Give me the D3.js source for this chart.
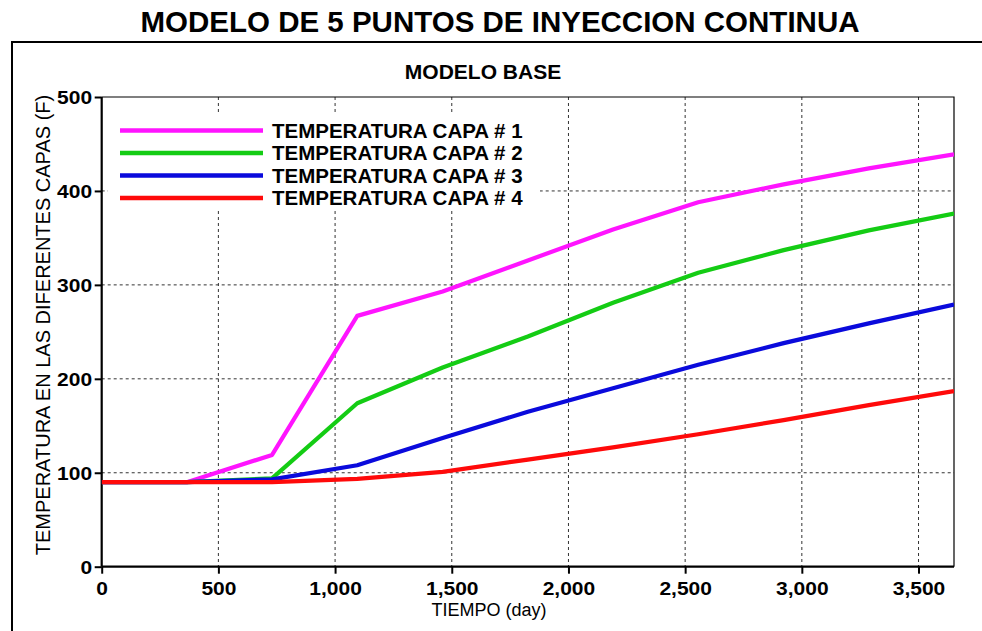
<!DOCTYPE html>
<html><head><meta charset="utf-8">
<script src="https://cdn.jsdelivr.net/npm/d3@7"></script>
<style>body{margin:0;background:#fff;}svg{display:block;}</style>
</head><body>
<svg id="chart" width="982" height="631"></svg>
<script>
const days = [0, 365, 730, 1095, 1461, 1826, 2191, 2556, 2922, 3287, 3652];
const capa1 = [90, 90, 119, 267, 293, 326, 359, 388, 407, 424, 439];
const capa2 = [90, 90, 94, 174, 212, 245, 281, 313, 337, 358, 376];
const capa3 = [90, 90, 93, 108, 137, 165, 190, 215, 238, 259, 279];
const capa4 = [90, 90, 90, 93.5, 101, 114, 127, 141, 156, 172, 187];
const seriesNames = ["TEMPERATURA CAPA # 1", "TEMPERATURA CAPA # 2", "TEMPERATURA CAPA # 3", "TEMPERATURA CAPA # 4"];
const seriesColors = ["#ff14ff", "#14cc14", "#0a0adc", "#ff0a0a"];
const xTicks = [0, 500, 1000, 1500, 2000, 2500, 3000, 3500];
const yTicks = [0, 100, 200, 300, 400, 500];
const title = "MODELO DE 5 PUNTOS DE INYECCION CONTINUA";
const subtitle = "MODELO BASE";
const xLabel = "TIEMPO (day)";
const yLabel = "TEMPERATURA EN LAS DIFERENTES CAPAS (F)";

const svg = d3.select("#chart");
const L = 101.7, R = 954, T = 97, B = 566.7;
const x = d3.scaleLinear().domain([0, 3652]).range([L, R]);
const y = d3.scaleLinear().domain([0, 500]).range([B, T]);
const font = "'Liberation Sans', Arial, sans-serif";

// outer frame
svg.append("path").attr("d", "M12,640 L12,42 L990,42").attr("fill", "none")
  .attr("stroke", "#000").attr("stroke-width", 2);

svg.append("text").attr("x", 500).attr("y", 32).attr("text-anchor", "middle")
  .attr("font-family", font).attr("font-weight", "bold").attr("font-size", 29.5).text(title);
svg.append("text").attr("x", 483).attr("y", 79).attr("text-anchor", "middle")
  .attr("font-family", font).attr("font-weight", "bold").attr("font-size", 21).text(subtitle);

// grid
const grid = svg.append("g").attr("stroke", "#333").attr("stroke-width", 1).attr("stroke-dasharray", "3,3");
grid.selectAll("line.v").data(xTicks.filter(d => d > 0)).join("line")
  .attr("x1", d => x(d)).attr("x2", d => x(d)).attr("y1", T).attr("y2", B);
grid.selectAll("line.h").data(yTicks.filter(d => d > 0 && d < 500)).join("line")
  .attr("x1", L).attr("x2", R).attr("y1", d => y(d)).attr("y2", d => y(d));

// plot border (top/right)
svg.append("path").attr("d", `M${L},${T} L${R},${T} L${R},${B}`).attr("fill", "none")
  .attr("stroke", "#000").attr("stroke-width", 1.2);

// legend background
svg.append("rect").attr("x", 108).attr("y", 115).attr("width", 432).attr("height", 96).attr("fill", "#fff");

// axes
const xAxis = svg.append("g").attr("transform", `translate(0,${B})`)
  .call(d3.axisBottom(x).tickValues(xTicks).tickSize(7).tickPadding(9).tickFormat(d3.format(",")));
const yAxis = svg.append("g").attr("transform", `translate(${L},0)`)
  .call(d3.axisLeft(y).tickValues(yTicks).tickSize(7).tickPadding(9).tickFormat(d3.format(",")));
[xAxis, yAxis].forEach(a => {
  a.select(".domain").attr("stroke-width", 2.2).attr("stroke", "#000");
  a.selectAll(".tick line").attr("stroke-width", 2).attr("stroke", "#000");
  a.selectAll(".tick text").attr("font-family", font).attr("font-weight", "bold")
    .attr("font-size", 17.5).attr("fill", "#000");
});
xAxis.selectAll(".tick text").attr("transform", "scale(1.2,1)");
yAxis.selectAll(".tick text").attr("transform", "scale(1.2,1)").attr("x", -8).attr("dy", "0.36em");
xAxis.select(".domain").attr("d", `M${L},0H${R}`);
yAxis.select(".domain").attr("d", `M0,${B}V${T}`);

// axis labels
svg.append("text").attr("x", 489).attr("y", 616).attr("text-anchor", "middle")
  .attr("font-family", font).attr("font-size", 18).text(xLabel);
svg.append("text").attr("transform", "translate(50,325) rotate(-90)").attr("text-anchor", "middle")
  .attr("font-family", font).attr("font-size", 20).text(yLabel);

// lines
const allSeries = [capa1, capa2, capa3, capa4];
const line = d3.line().x((d, i) => x(days[i])).y(d => y(d));
svg.append("defs").append("clipPath").attr("id", "clip").append("rect")
  .attr("x", L).attr("y", T - 5).attr("width", R - L).attr("height", B - T + 10);
const gl = svg.append("g").attr("clip-path", "url(#clip)");
allSeries.forEach((s, i) => {
  gl.append("path").datum(s).attr("d", line).attr("fill", "none")
    .attr("stroke", seriesColors[i]).attr("stroke-width", 4.2).attr("stroke-linejoin", "round");
});

// legend
const leg = svg.append("g");
const legY = [130.5, 153, 175.5, 198];
seriesNames.forEach((n, i) => {
  leg.append("line").attr("x1", 120).attr("x2", 263).attr("y1", legY[i]).attr("y2", legY[i])
    .attr("stroke", seriesColors[i]).attr("stroke-width", 4.7);
  leg.append("text").attr("x", 272).attr("y", legY[i] + 7).attr("font-family", font)
    .attr("font-weight", "bold").attr("font-size", 20.5).text(n);
});
</script>
</body></html>
